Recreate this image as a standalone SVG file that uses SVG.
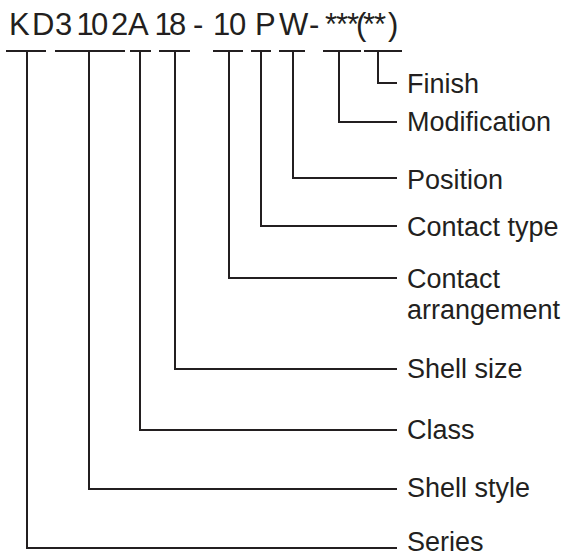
<svg xmlns="http://www.w3.org/2000/svg" width="565" height="558" viewBox="0 0 565 558">
<style>
.ln{fill:none;stroke:#231f20;stroke-width:2;stroke-linecap:butt;stroke-linejoin:miter}
.lb{font-family:"Liberation Sans",Arial,sans-serif;font-size:27px;fill:#231f20}
.code{font-family:"Liberation Sans",Arial,sans-serif;font-size:31px;fill:#231f20}
</style>
<rect width="565" height="558" fill="#ffffff"/>
<g id="code">
<text class="code" x="9 32 55 76.5 91 111 128 154.5 169 193 213 229 255 279 309 325 336 347 356 363 374 388" y="35">KD3102A18-10PW-***(**)</text>
</g>
<g id="connectors">
<path class="ln" d="M6 51H46M27 51V548H397"/>
<path class="ln" d="M55 51H125M89 51V489H397"/>
<path class="ln" d="M130 51H151M140 51V430H397"/>
<path class="ln" d="M159 51H190M175 51V369H397"/>
<path class="ln" d="M213 51H243M229 51V278H397"/>
<path class="ln" d="M251 51H271M261 51V226H397"/>
<path class="ln" d="M279 51H305M293 51V178H397"/>
<path class="ln" d="M323 51H361M339 51V122H397"/>
<path class="ln" d="M364 51H402M378 51V83H397"/>
</g>
<g id="finish"><text class="lb" x="407" y="93">Finish</text></g>
<g id="modification"><text class="lb" x="407" y="131">Modification</text></g>
<g id="position"><text class="lb" x="407" y="189">Position</text></g>
<g id="contact-type"><text class="lb" x="407" y="236">Contact type</text></g>
<g id="contact-arrangement"><text class="lb" x="407" y="288">Contact</text><text class="lb" x="407" y="319">arrangement</text></g>
<g id="shell-size"><text class="lb" x="407" y="378">Shell size</text></g>
<g id="class"><text class="lb" x="407" y="439">Class</text></g>
<g id="shell-style"><text class="lb" x="407" y="497">Shell style</text></g>
<g id="series"><text class="lb" x="407" y="551">Series</text></g>
</svg>
